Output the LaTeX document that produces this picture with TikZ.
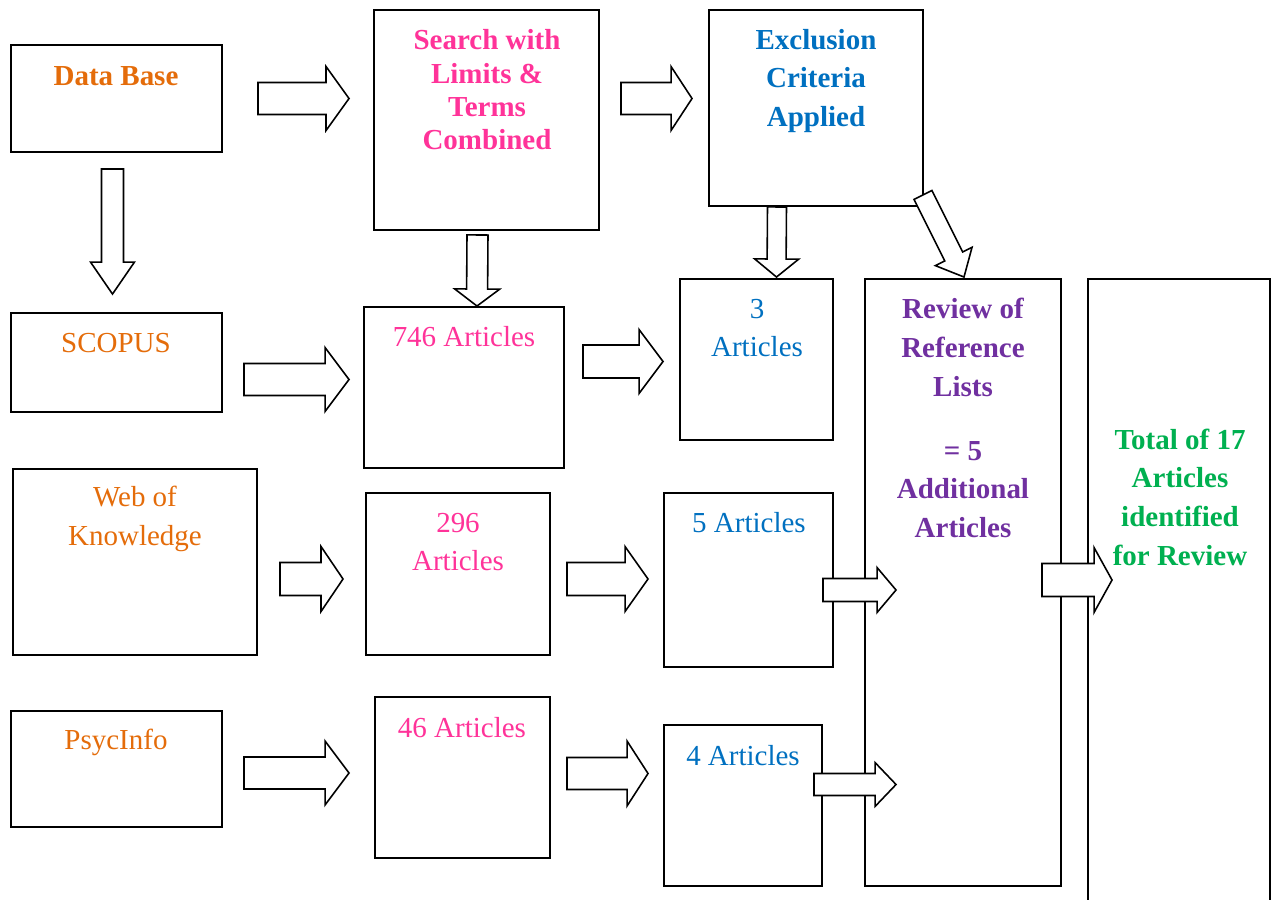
\documentclass[tikz,border=0pt]{standalone}
\usepackage{fontspec}
\setmainfont{Liberation Serif}
\usetikzlibrary{positioning,calc,fit}

\definecolor{dborange}{HTML}{E46C0A}
\definecolor{srchpink}{HTML}{FF3399}
\definecolor{exclblue}{HTML}{0070C0}
\definecolor{revpurple}{HTML}{7030A0}
\definecolor{totgreen}{HTML}{00B050}

\tikzset{
  box/.style={draw,line width=1.1pt,inner sep=0pt},
  headtext/.style={font=\fontsize{16.5}{22}\selectfont\bfseries,align=center,inner sep=0pt},
  plaintext/.style={font=\fontsize{16.5}{22}\selectfont,align=center,inner sep=0pt},
  arrowbody/.style={draw,fill=white,line width=0.9pt,line join=miter}
}

% block arrow: shaft half width, head half width, head length, tail, tip
\newcommand{\blockarrow}[5]{%
  \coordinate (bt) at #4;
  \coordinate (bh) at #5;
  \coordinate (bn) at ($(bh)!#3!(bt)$);
  \draw[arrowbody] ($(bt)!#1!90:(bh)$) -- ($(bn)!#1!-90:(bt)$) -- ($(bn)!#2!-90:(bt)$)
    -- (bh) -- ($(bn)!#2!90:(bt)$) -- ($(bn)!#1!90:(bt)$) -- ($(bt)!#1!-90:(bh)$) -- cycle;
}

\begin{document}
\begin{tikzpicture}[x=0.02cm,y=-0.02cm]
    \useasboundingbox (0,0) rectangle (1276,900);

    % boxes
    \node[box,fit={(11,45) (222,152)}] (db) {};
    \node[box,fit={(374,10) (599,230)}] (search) {};
    \node[box,fit={(709,10) (923,206)}] (excl) {};
    \node[box,fit={(11,313) (222,412)}] (scopus) {};
    \node[box,fit={(364,307) (564,468)}] (a746) {};
    \node[box,fit={(680,279) (833,440)}] (a3) {};
    \node[box,fit={(865,279) (1061,886)}] (review) {};
    \node[box,fit={(1088,279) (1270,915)}] (total) {};
    \node[box,fit={(13,469) (257,655)}] (wok) {};
    \node[box,fit={(366,493) (550,655)}] (a296) {};
    \node[box,fit={(664,493) (833,667)}] (a5) {};
    \node[box,fit={(11,711) (222,827)}] (psyc) {};
    \node[box,fit={(375,697) (550,858)}] (a46) {};
    \node[box,fit={(664,725) (822,886)}] (a4) {};

    % texts
    \node[headtext,text=dborange] (dbtext) at (116,76) {Data Base};
    \node[headtext,text=srchpink,font=\fontsize{16.5}{19}\selectfont\bfseries] (searchtext) at (487,90) {Search with\\Limits \&\\Terms\\Combined};
    \node[headtext,text=exclblue] (excltext) at (816,81) {Exclusion\\Criteria\\Applied};
    \node[plaintext,text=dborange] (scopustext) at (116,343) {SCOPUS};
    \node[plaintext,text=srchpink] (a746text) at (464,337) {746 Articles};
    \node[plaintext,text=exclblue] (a3text) at (757,328) {3\\Articles};
    \node[headtext,text=revpurple] (reviewtext) at (963,418) {Review of\\Reference\\Lists\\[14.5pt]= 5\\Additional\\Articles};
    \node[headtext,text=totgreen] (totaltext) at (1180,497) {Total of 17\\Articles\\identified\\for Review};
    \node[plaintext,text=dborange] (woktext) at (135,519) {Web of\\Knowledge};
    \node[plaintext,text=srchpink] (a296text) at (458,542) {296\\Articles};
    \node[plaintext,text=exclblue] (a5text) at (749,523) {5 Articles};
    \node[plaintext,text=dborange] (psyctext) at (116,742) {PsycInfo};
    \node[plaintext,text=srchpink] (a46text) at (462,728) {46 Articles};
    \node[plaintext,text=exclblue] (a4text) at (743,756) {4 Articles};

    % arrows
    \blockarrow{0.32cm}{0.64cm}{0.46cm}{($(db.east)+(35,0)$)}{($(search.west |- db.east)+(-24,0)$)}
    \blockarrow{0.32cm}{0.64cm}{0.42cm}{($(search.east |- db.east)+(21,0)$)}{($(excl.west |- db.east)+(-16,0)$)}
    \blockarrow{0.22cm}{0.44cm}{0.64cm}{($(db.south)+(-4,16)$)}{($(scopus.north)+(-4,-18)$)}
    \blockarrow{0.21cm}{0.45cm}{0.34cm}{($(search.south)+(-9,4)$)}{($(a746.north)+(13,0)$)}
    \blockarrow{0.19cm}{0.44cm}{0.36cm}{($(excl.south)+(-39,0)$)}{($(a3.north)+(20,-1)$)}
    \blockarrow{0.2cm}{0.41cm}{0.46cm}{($(excl.south east)+(-1,-12)$)}{($(review.north)+(1,-1)$)}
    \blockarrow{0.32cm}{0.64cm}{0.48cm}{($(scopus.east)+(21,17)$)}{($(a746.west |- scopus.east)+(-14,17)$)}
    \blockarrow{0.33cm}{0.64cm}{0.48cm}{($(a746.east |- a3.west)+(18,2)$)}{($(a3.west)+(-16,2)$)}
    \blockarrow{0.33cm}{0.65cm}{0.44cm}{($(wok.east)+(22,17)$)}{($(a296.west |- wok.east)+(-22,17)$)}
    \blockarrow{0.33cm}{0.65cm}{0.46cm}{($(a296.east |- wok.east)+(16,17)$)}{($(a5.west |- wok.east)+(-15,17)$)}
    \blockarrow{0.23cm}{0.45cm}{0.38cm}{($(a5.east)+(-11,10)$)}{($(review.west |- a5.east)+(32,10)$)}
    \blockarrow{0.22cm}{0.44cm}{0.42cm}{($(a4.east)+(-9,-21)$)}{($(review.west |- a4.east)+(32,-21)$)}
    \blockarrow{0.33cm}{0.65cm}{0.36cm}{($(review.east |- a5.east)+(-20,0)$)}{($(total.west |- a5.east)+(25,0)$)}
    \blockarrow{0.32cm}{0.64cm}{0.48cm}{($(psyc.east)+(21,4)$)}{($(a46.west |- psyc.east)+(-25,4)$)}
    \blockarrow{0.32cm}{0.65cm}{0.42cm}{($(a46.east |- a4.east)+(16,-32)$)}{($(a4.west)+(-15,-32)$)}
\end{tikzpicture}
\end{document}
